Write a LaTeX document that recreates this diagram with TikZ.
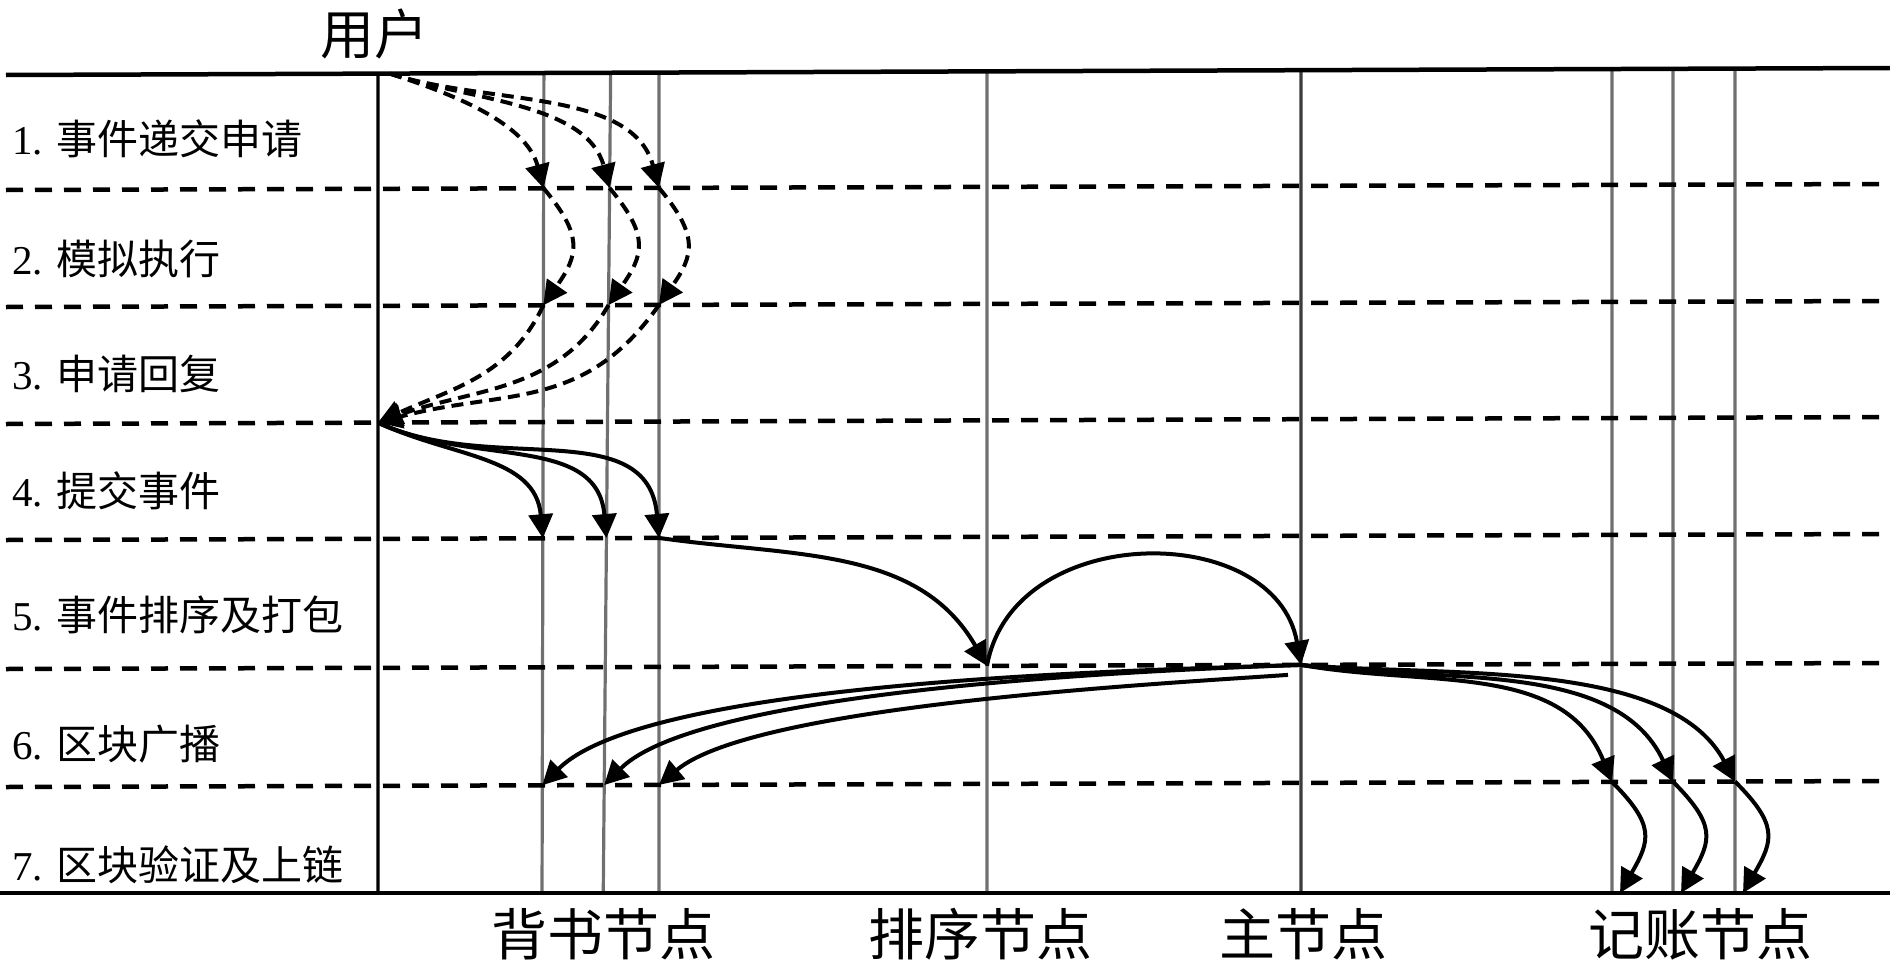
\documentclass[tikz,border=0pt]{standalone}
\usepackage{fontspec}
\setmainfont{Liberation Serif}
\newfontfamily\cjk{Noto Sans CJK SC}
\usetikzlibrary{arrows.meta,calc}
\definecolor{lifegray}{HTML}{707070}
\definecolor{maingray}{HTML}{3C3C3C}
\begin{document}
\begin{tikzpicture}[x=1pt,y=1pt,
  flow/.style={-{Triangle[length=24pt,width=24pt]}, line width=4pt, black},
  flowd/.style={flow, line width=4pt, dash pattern=on 12pt off 7pt},
  sepline/.style={line width=4.5pt, dash pattern=on 17pt off 12pt, black},
  border/.style={line width=4.5pt, black},
  life/.style={line width=3.2pt, draw=lifegray},
  mainlife/.style={line width=3.2pt, draw=maingray},
  userlife/.style={line width=3.2pt, draw=black},
  lab/.style={anchor=west, inner sep=0pt, font=\fontsize{41}{49}\selectfont},
  big/.style={inner sep=0pt, font=\cjk\fontsize{56}{64}\selectfont}]
\useasboundingbox (0,0) rectangle (1890,-969);
% horizontal lines
\coordinate (La0) at (6,-75);   \coordinate (Lb0) at (1890,-68);
\coordinate (La1) at (6,-190);  \coordinate (Lb1) at (1890,-184);
\coordinate (La2) at (6,-307);  \coordinate (Lb2) at (1890,-301);
\coordinate (La3) at (6,-424);  \coordinate (Lb3) at (1890,-417);
\coordinate (La4) at (6,-540);  \coordinate (Lb4) at (1890,-534);
\coordinate (La5) at (6,-669);  \coordinate (Lb5) at (1890,-663);
\coordinate (La6) at (6,-787);  \coordinate (Lb6) at (1890,-781);
\coordinate (La7) at (0,-893);  \coordinate (Lb7) at (1890,-893);
% lifelines and their crossings
\foreach \n/\xt/\xb in {U/378/378, E1/544/542, E2/611/603, E3/659/659, O/987/987, M/1301/1301, G1/1612/1612, G2/1673/1673, G3/1735/1735}{
  \coordinate (top\n) at (\xt,-40);
  \coordinate (bot\n) at (\xb,-920);
  \foreach \k in {0,...,7}
    \coordinate (\n-\k) at (intersection cs: first line={(top\n)--(bot\n)}, second line={(La\k)--(Lb\k)});
}
\foreach \n in {E1,E2,E3,O,G1,G2,G3} \draw[life] (\n-0) -- (\n-7);
\draw[mainlife] (M-0) -- (M-7);
\draw[userlife] (U-0) -- (U-7);
\draw[border] (La0) -- (Lb0);
\foreach \k in {1,...,6} \draw[sepline] (La\k) -- (Lb\k);
\draw[border] (La7) -- (Lb7);
% labels
\node[big, font=\cjk\fontsize{54}{62}\selectfont] (user) at (374,-34) {用户};
\node[lab] (s1) at (12,-139) {1. {\cjk 事件递交申请}};
\node[lab] (s2) at (12,-259) {2. {\cjk 模拟执行}};
\node[lab] (s3) at (12,-374) {3. {\cjk 申请回复}};
\node[lab] (s4) at (12,-491) {4. {\cjk 提交事件}};
\node[lab] (s5) at (12,-615) {5. {\cjk 事件排序及打包}};
\node[lab] (s6) at (12,-744) {6. {\cjk 区块广播}};
\node[lab] (s7) at (12,-865) {7. {\cjk 区块验证及上链}};
\node[big] (endorse) at (603,-934) {背书节点};
\node[big] (order) at (980,-934) {排序节点};
\node[big] (master) at (1303,-934) {主节点};
\node[big] (ledger) at (1700,-934) {记账节点};
% phase 1
\coordinate (U0s) at ($(U-0)+(12,0)$);
\foreach \e in {E1,E2,E3}
  \draw[flowd] (U0s) to[out=-18,in=105,looseness=0.9] (\e-1);
% phase 2
\foreach \e in {E1,E2,E3}
  \draw[flowd] (\e-1) to[out=-50,in=55,looseness=1.35] (\e-2);
% phase 3
\draw[flowd] (E1-2) to[out=-115,in=25] (U-3);
\draw[flowd] (E2-2) to[out=-120,in=20] (U-3);
\draw[flowd] (E3-2) to[out=-125,in=15,looseness=1.1] (U-3);
% phase 4
\foreach \e in {E1,E2,E3}
  \draw[flow] (U-3) to[out=-25,in=95,looseness=1.05] (\e-4);
% phase 5
\draw[flow] (E3-4) to[out=-8,in=120] (O-5);
\draw[flow] (O-5) to[out=80,in=100,looseness=1.2] (M-5);
% phase 6
\coordinate (M5b) at ($(M-5)+(-13,-10)$);
\draw[flow] (M-5) to[out=182,in=45,looseness=0.5] (E1-6);
\draw[flow] (M-5) to[out=182,in=45,looseness=0.5] (E2-6);
\draw[flow] (M5b) to[out=184,in=40,looseness=0.5] (E3-6);
\draw[flow] (M-5) to[out=-10,in=112,looseness=1] (G1-6);
\draw[flow] (M-5) to[out=-8,in=115,looseness=0.9] (G2-6);
\draw[flow] (M-5) to[out=-5,in=118,looseness=0.8] (G3-6);
% phase 7
\foreach \g in {G1,G2,G3}{
  \coordinate (\g-7r) at ($(\g-7)+(8,0)$);
  \draw[flow] (\g-6) to[out=-45,in=60,looseness=1.4] (\g-7r);
}
\end{tikzpicture}
\end{document}
